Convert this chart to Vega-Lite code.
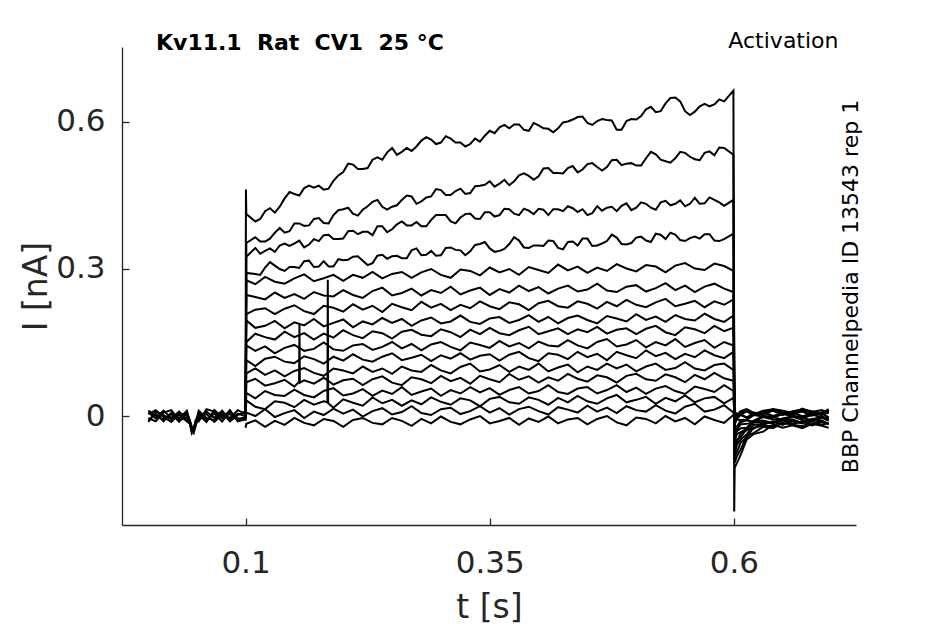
{
"$schema": "https://vega.github.io/schema/vega-lite/v6.json",
"width": 734,
"height": 478,
"autosize": {"type": "none"},
"padding": {"left": 122, "top": 47, "right": 89, "bottom": 99},
"background": "white",
"config": {"view": {"stroke": null}, "font": "DejaVu Sans"},
"title": {"text": "Kv11.1 \u00a0Rat \u00a0CV1 \u00a025 °C", "anchor": "start", "frame": "group", "dx": 34, "dy": 39, "offset": -4, "baseline": "alphabetic", "font": "DejaVu Sans", "fontSize": 22, "fontWeight": "bold", "color": "black"},
"data": {"values": [
{"s":21,"t":0.0005,"i":0.007},{"s":21,"t":0.008,"i":-0.005},{"s":21,"t":0.016,"i":0.011},{"s":21,"t":0.024,"i":-0.004},{"s":21,"t":0.032,"i":0.009},{"s":21,"t":0.04,"i":-0.007},{"s":21,"t":0.043,"i":-0.012},{"s":21,"t":0.045,"i":-0.028},{"s":21,"t":0.047,"i":-0.030},{"s":21,"t":0.049,"i":-0.015},{"s":21,"t":0.052,"i":-0.005},{"s":21,"t":0.06,"i":0.009},{"s":21,"t":0.068,"i":-0.004},{"s":21,"t":0.076,"i":0.011},{"s":21,"t":0.084,"i":-0.007},{"s":21,"t":0.092,"i":0.005},{"s":21,"t":0.0995,"i":0.000},
{"s":22,"t":0.0005,"i":-0.009},{"s":22,"t":0.008,"i":0.005},{"s":22,"t":0.016,"i":-0.011},{"s":22,"t":0.024,"i":0.007},{"s":22,"t":0.032,"i":-0.005},{"s":22,"t":0.04,"i":0.011},{"s":22,"t":0.043,"i":-0.015},{"s":22,"t":0.045,"i":-0.032},{"s":22,"t":0.047,"i":-0.027},{"s":22,"t":0.049,"i":-0.010},{"s":22,"t":0.052,"i":0.007},{"s":22,"t":0.06,"i":-0.009},{"s":22,"t":0.068,"i":0.005},{"s":22,"t":0.076,"i":-0.011},{"s":22,"t":0.084,"i":0.009},{"s":22,"t":0.092,"i":-0.005},{"s":22,"t":0.0995,"i":-0.004},
{"s":23,"t":0.0005,"i":0.004},{"s":23,"t":0.008,"i":0.012},{"s":23,"t":0.016,"i":-0.002},{"s":23,"t":0.024,"i":-0.012},{"s":23,"t":0.032,"i":0.005},{"s":23,"t":0.04,"i":0.002},{"s":23,"t":0.043,"i":-0.010},{"s":23,"t":0.045,"i":-0.025},{"s":23,"t":0.047,"i":-0.034},{"s":23,"t":0.049,"i":-0.018},{"s":23,"t":0.052,"i":-0.002},{"s":23,"t":0.06,"i":0.004},{"s":23,"t":0.068,"i":-0.012},{"s":23,"t":0.076,"i":0.002},{"s":23,"t":0.084,"i":-0.004},{"s":23,"t":0.092,"i":0.012},{"s":23,"t":0.0995,"i":0.005},
{"s":24,"t":0.0005,"i":-0.004},{"s":24,"t":0.008,"i":-0.011},{"s":24,"t":0.016,"i":0.007},{"s":24,"t":0.024,"i":0.012},{"s":24,"t":0.032,"i":-0.009},{"s":24,"t":0.04,"i":-0.002},{"s":24,"t":0.043,"i":-0.014},{"s":24,"t":0.045,"i":-0.030},{"s":24,"t":0.047,"i":-0.024},{"s":24,"t":0.049,"i":-0.008},{"s":24,"t":0.052,"i":-0.011},{"s":24,"t":0.06,"i":0.014},{"s":24,"t":0.068,"i":0.009},{"s":24,"t":0.076,"i":-0.005},{"s":24,"t":0.084,"i":0.012},{"s":24,"t":0.092,"i":-0.011},{"s":24,"t":0.0995,"i":-0.007},
{"s":25,"t":0.0005,"i":0.011},{"s":25,"t":0.008,"i":0.000},{"s":25,"t":0.016,"i":-0.007},{"s":25,"t":0.024,"i":0.004},{"s":25,"t":0.032,"i":-0.012},{"s":25,"t":0.04,"i":0.007},{"s":25,"t":0.043,"i":-0.009},{"s":25,"t":0.045,"i":-0.022},{"s":25,"t":0.047,"i":-0.031},{"s":25,"t":0.049,"i":-0.020},{"s":25,"t":0.052,"i":0.011},{"s":25,"t":0.06,"i":-0.004},{"s":25,"t":0.068,"i":-0.009},{"s":25,"t":0.076,"i":0.007},{"s":25,"t":0.084,"i":-0.011},{"s":25,"t":0.092,"i":0.002},{"s":25,"t":0.0995,"i":0.009},
{"s":26,"t":0.0005,"i":-0.012},{"s":26,"t":0.008,"i":0.009},{"s":26,"t":0.016,"i":0.002},{"s":26,"t":0.024,"i":-0.007},{"s":26,"t":0.032,"i":0.002},{"s":26,"t":0.04,"i":-0.011},{"s":26,"t":0.043,"i":-0.016},{"s":26,"t":0.045,"i":-0.035},{"s":26,"t":0.047,"i":-0.028},{"s":26,"t":0.049,"i":-0.012},{"s":26,"t":0.052,"i":0.002},{"s":26,"t":0.06,"i":-0.012},{"s":26,"t":0.068,"i":0.012},{"s":26,"t":0.076,"i":-0.002},{"s":26,"t":0.084,"i":0.004},{"s":26,"t":0.092,"i":-0.009},{"s":26,"t":0.0995,"i":-0.002},
{"s":1,"t":0.1,"i":0.003},{"s":1,"t":0.1004,"i":0.462},{"s":1,"t":0.1008,"i":0.412},{"s":1,"t":0.11,"i":0.397},{"s":1,"t":0.12,"i":0.418},{"s":1,"t":0.13,"i":0.415},{"s":1,"t":0.14,"i":0.444},{"s":1,"t":0.15,"i":0.453},{"s":1,"t":0.16,"i":0.465},{"s":1,"t":0.17,"i":0.466},{"s":1,"t":0.18,"i":0.462},{"s":1,"t":0.19,"i":0.480},{"s":1,"t":0.2,"i":0.498},{"s":1,"t":0.21,"i":0.513},{"s":1,"t":0.22,"i":0.504},{"s":1,"t":0.23,"i":0.523},{"s":1,"t":0.24,"i":0.523},{"s":1,"t":0.25,"i":0.547},{"s":1,"t":0.26,"i":0.539},{"s":1,"t":0.27,"i":0.541},{"s":1,"t":0.28,"i":0.562},{"s":1,"t":0.29,"i":0.564},{"s":1,"t":0.3,"i":0.558},{"s":1,"t":0.31,"i":0.566},{"s":1,"t":0.32,"i":0.558},{"s":1,"t":0.33,"i":0.555},{"s":1,"t":0.34,"i":0.560},{"s":1,"t":0.35,"i":0.582},{"s":1,"t":0.36,"i":0.589},{"s":1,"t":0.37,"i":0.587},{"s":1,"t":0.38,"i":0.595},{"s":1,"t":0.39,"i":0.582},{"s":1,"t":0.4,"i":0.593},{"s":1,"t":0.41,"i":0.586},{"s":1,"t":0.42,"i":0.587},{"s":1,"t":0.43,"i":0.601},{"s":1,"t":0.44,"i":0.610},{"s":1,"t":0.45,"i":0.598},{"s":1,"t":0.46,"i":0.602},{"s":1,"t":0.47,"i":0.604},{"s":1,"t":0.48,"i":0.584},{"s":1,"t":0.49,"i":0.602},{"s":1,"t":0.5,"i":0.605},{"s":1,"t":0.51,"i":0.626},{"s":1,"t":0.52,"i":0.620},{"s":1,"t":0.53,"i":0.638},{"s":1,"t":0.54,"i":0.650},{"s":1,"t":0.55,"i":0.622},{"s":1,"t":0.56,"i":0.621},{"s":1,"t":0.57,"i":0.637},{"s":1,"t":0.58,"i":0.636},{"s":1,"t":0.59,"i":0.642},{"s":1,"t":0.5995,"i":0.664},{"s":1,"t":0.6003,"i":-0.195},{"s":1,"t":0.6008,"i":-0.106},{"s":1,"t":0.603,"i":-0.096},{"s":1,"t":0.607,"i":-0.079},{"s":1,"t":0.613,"i":-0.048},{"s":1,"t":0.62,"i":-0.037},{"s":1,"t":0.63,"i":-0.032},{"s":1,"t":0.64,"i":-0.018},{"s":1,"t":0.65,"i":-0.024},{"s":1,"t":0.66,"i":-0.019},{"s":1,"t":0.67,"i":-0.025},{"s":1,"t":0.68,"i":-0.016},{"s":1,"t":0.69,"i":-0.020},{"s":1,"t":0.697,"i":-0.024},
{"s":1,"t":0.115,"i":0.402},{"s":1,"t":0.125,"i":0.424},{"s":1,"t":0.135,"i":0.427},{"s":1,"t":0.145,"i":0.457},{"s":1,"t":0.155,"i":0.450},{"s":1,"t":0.165,"i":0.470},{"s":1,"t":0.175,"i":0.470},{"s":1,"t":0.185,"i":0.464},{"s":1,"t":0.195,"i":0.491},{"s":1,"t":0.205,"i":0.515},{"s":1,"t":0.215,"i":0.504},{"s":1,"t":0.225,"i":0.506},{"s":1,"t":0.235,"i":0.528},{"s":1,"t":0.245,"i":0.538},{"s":1,"t":0.255,"i":0.533},{"s":1,"t":0.265,"i":0.547},{"s":1,"t":0.275,"i":0.550},{"s":1,"t":0.285,"i":0.569},{"s":1,"t":0.295,"i":0.555},{"s":1,"t":0.305,"i":0.571},{"s":1,"t":0.315,"i":0.558},{"s":1,"t":0.325,"i":0.550},{"s":1,"t":0.335,"i":0.566},{"s":1,"t":0.345,"i":0.572},{"s":1,"t":0.355,"i":0.577},{"s":1,"t":0.365,"i":0.594},{"s":1,"t":0.375,"i":0.595},{"s":1,"t":0.385,"i":0.584},{"s":1,"t":0.395,"i":0.598},{"s":1,"t":0.405,"i":0.587},{"s":1,"t":0.415,"i":0.579},{"s":1,"t":0.425,"i":0.599},{"s":1,"t":0.435,"i":0.605},{"s":1,"t":0.445,"i":0.611},{"s":1,"t":0.455,"i":0.594},{"s":1,"t":0.465,"i":0.606},{"s":1,"t":0.475,"i":0.603},{"s":1,"t":0.485,"i":0.584},{"s":1,"t":0.495,"i":0.606},{"s":1,"t":0.505,"i":0.612},{"s":1,"t":0.515,"i":0.631},{"s":1,"t":0.525,"i":0.622},{"s":1,"t":0.535,"i":0.649},{"s":1,"t":0.545,"i":0.642},{"s":1,"t":0.555,"i":0.614},{"s":1,"t":0.565,"i":0.632},{"s":1,"t":0.575,"i":0.632},{"s":1,"t":0.585,"i":0.646},
{"s":2,"t":0.1,"i":-0.004},{"s":2,"t":0.1008,"i":0.353},{"s":2,"t":0.11,"i":0.365},{"s":2,"t":0.12,"i":0.356},{"s":2,"t":0.13,"i":0.374},{"s":2,"t":0.14,"i":0.374},{"s":2,"t":0.15,"i":0.393},{"s":2,"t":0.16,"i":0.388},{"s":2,"t":0.17,"i":0.402},{"s":2,"t":0.18,"i":0.394},{"s":2,"t":0.19,"i":0.410},{"s":2,"t":0.2,"i":0.422},{"s":2,"t":0.21,"i":0.413},{"s":2,"t":0.22,"i":0.421},{"s":2,"t":0.23,"i":0.437},{"s":2,"t":0.24,"i":0.427},{"s":2,"t":0.25,"i":0.427},{"s":2,"t":0.26,"i":0.441},{"s":2,"t":0.27,"i":0.448},{"s":2,"t":0.28,"i":0.438},{"s":2,"t":0.29,"i":0.448},{"s":2,"t":0.3,"i":0.461},{"s":2,"t":0.31,"i":0.451},{"s":2,"t":0.32,"i":0.464},{"s":2,"t":0.33,"i":0.455},{"s":2,"t":0.34,"i":0.470},{"s":2,"t":0.35,"i":0.479},{"s":2,"t":0.36,"i":0.474},{"s":2,"t":0.37,"i":0.471},{"s":2,"t":0.38,"i":0.491},{"s":2,"t":0.39,"i":0.490},{"s":2,"t":0.4,"i":0.489},{"s":2,"t":0.41,"i":0.506},{"s":2,"t":0.42,"i":0.496},{"s":2,"t":0.43,"i":0.506},{"s":2,"t":0.44,"i":0.497},{"s":2,"t":0.45,"i":0.514},{"s":2,"t":0.46,"i":0.508},{"s":2,"t":0.47,"i":0.508},{"s":2,"t":0.48,"i":0.523},{"s":2,"t":0.49,"i":0.515},{"s":2,"t":0.5,"i":0.511},{"s":2,"t":0.51,"i":0.526},{"s":2,"t":0.52,"i":0.534},{"s":2,"t":0.53,"i":0.520},{"s":2,"t":0.54,"i":0.526},{"s":2,"t":0.55,"i":0.537},{"s":2,"t":0.56,"i":0.524},{"s":2,"t":0.57,"i":0.537},{"s":2,"t":0.58,"i":0.532},{"s":2,"t":0.59,"i":0.547},{"s":2,"t":0.5995,"i":0.533},{"s":2,"t":0.6008,"i":-0.095},{"s":2,"t":0.603,"i":-0.082},{"s":2,"t":0.607,"i":-0.068},{"s":2,"t":0.613,"i":-0.041},{"s":2,"t":0.62,"i":-0.035},{"s":2,"t":0.63,"i":-0.022},{"s":2,"t":0.64,"i":-0.025},{"s":2,"t":0.65,"i":-0.014},{"s":2,"t":0.66,"i":-0.018},{"s":2,"t":0.67,"i":-0.021},{"s":2,"t":0.68,"i":-0.011},{"s":2,"t":0.69,"i":-0.018},{"s":2,"t":0.697,"i":-0.014},
{"s":2,"t":0.115,"i":0.356},{"s":2,"t":0.125,"i":0.362},{"s":2,"t":0.135,"i":0.384},{"s":2,"t":0.145,"i":0.377},{"s":2,"t":0.155,"i":0.393},{"s":2,"t":0.165,"i":0.389},{"s":2,"t":0.175,"i":0.404},{"s":2,"t":0.185,"i":0.393},{"s":2,"t":0.195,"i":0.420},{"s":2,"t":0.205,"i":0.425},{"s":2,"t":0.215,"i":0.409},{"s":2,"t":0.225,"i":0.428},{"s":2,"t":0.235,"i":0.441},{"s":2,"t":0.245,"i":0.421},{"s":2,"t":0.255,"i":0.430},{"s":2,"t":0.265,"i":0.450},{"s":2,"t":0.275,"i":0.433},{"s":2,"t":0.285,"i":0.446},{"s":2,"t":0.295,"i":0.463},{"s":2,"t":0.305,"i":0.451},{"s":2,"t":0.315,"i":0.459},{"s":2,"t":0.325,"i":0.453},{"s":2,"t":0.335,"i":0.469},{"s":2,"t":0.345,"i":0.472},{"s":2,"t":0.355,"i":0.468},{"s":2,"t":0.365,"i":0.482},{"s":2,"t":0.375,"i":0.479},{"s":2,"t":0.385,"i":0.495},{"s":2,"t":0.395,"i":0.482},{"s":2,"t":0.405,"i":0.505},{"s":2,"t":0.415,"i":0.496},{"s":2,"t":0.425,"i":0.495},{"s":2,"t":0.435,"i":0.510},{"s":2,"t":0.445,"i":0.503},{"s":2,"t":0.455,"i":0.516},{"s":2,"t":0.465,"i":0.501},{"s":2,"t":0.475,"i":0.522},{"s":2,"t":0.485,"i":0.512},{"s":2,"t":0.495,"i":0.516},{"s":2,"t":0.505,"i":0.511},{"s":2,"t":0.515,"i":0.539},{"s":2,"t":0.525,"i":0.523},{"s":2,"t":0.535,"i":0.517},{"s":2,"t":0.545,"i":0.539},{"s":2,"t":0.555,"i":0.529},{"s":2,"t":0.565,"i":0.522},{"s":2,"t":0.575,"i":0.540},{"s":2,"t":0.585,"i":0.548},
{"s":3,"t":0.1,"i":0.002},{"s":3,"t":0.1008,"i":0.325},{"s":3,"t":0.11,"i":0.343},{"s":3,"t":0.12,"i":0.337},{"s":3,"t":0.13,"i":0.335},{"s":3,"t":0.14,"i":0.352},{"s":3,"t":0.15,"i":0.352},{"s":3,"t":0.16,"i":0.344},{"s":3,"t":0.17,"i":0.361},{"s":3,"t":0.18,"i":0.369},{"s":3,"t":0.19,"i":0.361},{"s":3,"t":0.2,"i":0.362},{"s":3,"t":0.21,"i":0.378},{"s":3,"t":0.22,"i":0.376},{"s":3,"t":0.23,"i":0.369},{"s":3,"t":0.24,"i":0.387},{"s":3,"t":0.25,"i":0.381},{"s":3,"t":0.26,"i":0.397},{"s":3,"t":0.27,"i":0.389},{"s":3,"t":0.28,"i":0.387},{"s":3,"t":0.29,"i":0.400},{"s":3,"t":0.3,"i":0.410},{"s":3,"t":0.31,"i":0.397},{"s":3,"t":0.32,"i":0.405},{"s":3,"t":0.33,"i":0.413},{"s":3,"t":0.34,"i":0.402},{"s":3,"t":0.35,"i":0.416},{"s":3,"t":0.36,"i":0.410},{"s":3,"t":0.37,"i":0.422},{"s":3,"t":0.38,"i":0.410},{"s":3,"t":0.39,"i":0.419},{"s":3,"t":0.4,"i":0.423},{"s":3,"t":0.41,"i":0.410},{"s":3,"t":0.42,"i":0.422},{"s":3,"t":0.43,"i":0.428},{"s":3,"t":0.44,"i":0.416},{"s":3,"t":0.45,"i":0.410},{"s":3,"t":0.46,"i":0.428},{"s":3,"t":0.47,"i":0.425},{"s":3,"t":0.48,"i":0.418},{"s":3,"t":0.49,"i":0.434},{"s":3,"t":0.5,"i":0.425},{"s":3,"t":0.51,"i":0.433},{"s":3,"t":0.52,"i":0.421},{"s":3,"t":0.53,"i":0.439},{"s":3,"t":0.54,"i":0.433},{"s":3,"t":0.55,"i":0.428},{"s":3,"t":0.56,"i":0.445},{"s":3,"t":0.57,"i":0.434},{"s":3,"t":0.58,"i":0.441},{"s":3,"t":0.59,"i":0.429},{"s":3,"t":0.5995,"i":0.441},{"s":3,"t":0.6008,"i":-0.081},{"s":3,"t":0.603,"i":-0.074},{"s":3,"t":0.607,"i":-0.054},{"s":3,"t":0.613,"i":-0.044},{"s":3,"t":0.62,"i":-0.024},{"s":3,"t":0.63,"i":-0.020},{"s":3,"t":0.64,"i":-0.021},{"s":3,"t":0.65,"i":-0.009},{"s":3,"t":0.66,"i":-0.016},{"s":3,"t":0.67,"i":-0.011},{"s":3,"t":0.68,"i":-0.019},{"s":3,"t":0.69,"i":-0.012},{"s":3,"t":0.697,"i":-0.017},
{"s":3,"t":0.115,"i":0.331},{"s":3,"t":0.125,"i":0.342},{"s":3,"t":0.135,"i":0.348},{"s":3,"t":0.145,"i":0.347},{"s":3,"t":0.155,"i":0.358},{"s":3,"t":0.165,"i":0.350},{"s":3,"t":0.175,"i":0.357},{"s":3,"t":0.185,"i":0.370},{"s":3,"t":0.195,"i":0.361},{"s":3,"t":0.205,"i":0.377},{"s":3,"t":0.215,"i":0.371},{"s":3,"t":0.225,"i":0.376},{"s":3,"t":0.235,"i":0.387},{"s":3,"t":0.245,"i":0.375},{"s":3,"t":0.255,"i":0.391},{"s":3,"t":0.265,"i":0.389},{"s":3,"t":0.275,"i":0.396},{"s":3,"t":0.285,"i":0.387},{"s":3,"t":0.295,"i":0.410},{"s":3,"t":0.305,"i":0.410},{"s":3,"t":0.315,"i":0.393},{"s":3,"t":0.325,"i":0.412},{"s":3,"t":0.335,"i":0.403},{"s":3,"t":0.345,"i":0.416},{"s":3,"t":0.355,"i":0.407},{"s":3,"t":0.365,"i":0.423},{"s":3,"t":0.375,"i":0.413},{"s":3,"t":0.385,"i":0.423},{"s":3,"t":0.395,"i":0.412},{"s":3,"t":0.405,"i":0.421},{"s":3,"t":0.415,"i":0.422},{"s":3,"t":0.425,"i":0.418},{"s":3,"t":0.435,"i":0.424},{"s":3,"t":0.445,"i":0.422},{"s":3,"t":0.455,"i":0.414},{"s":3,"t":0.465,"i":0.419},{"s":3,"t":0.475,"i":0.427},{"s":3,"t":0.485,"i":0.429},{"s":3,"t":0.495,"i":0.420},{"s":3,"t":0.505,"i":0.436},{"s":3,"t":0.515,"i":0.425},{"s":3,"t":0.525,"i":0.436},{"s":3,"t":0.535,"i":0.430},{"s":3,"t":0.545,"i":0.440},{"s":3,"t":0.555,"i":0.433},{"s":3,"t":0.565,"i":0.433},{"s":3,"t":0.575,"i":0.446},{"s":3,"t":0.585,"i":0.436},
{"s":4,"t":0.1,"i":-0.003},{"s":4,"t":0.1008,"i":0.292},{"s":4,"t":0.11,"i":0.290},{"s":4,"t":0.12,"i":0.303},{"s":4,"t":0.13,"i":0.307},{"s":4,"t":0.14,"i":0.296},{"s":4,"t":0.15,"i":0.304},{"s":4,"t":0.16,"i":0.316},{"s":4,"t":0.17,"i":0.304},{"s":4,"t":0.18,"i":0.316},{"s":4,"t":0.19,"i":0.305},{"s":4,"t":0.2,"i":0.318},{"s":4,"t":0.21,"i":0.325},{"s":4,"t":0.22,"i":0.317},{"s":4,"t":0.23,"i":0.312},{"s":4,"t":0.24,"i":0.329},{"s":4,"t":0.25,"i":0.326},{"s":4,"t":0.26,"i":0.322},{"s":4,"t":0.27,"i":0.338},{"s":4,"t":0.28,"i":0.328},{"s":4,"t":0.29,"i":0.337},{"s":4,"t":0.3,"i":0.328},{"s":4,"t":0.31,"i":0.344},{"s":4,"t":0.32,"i":0.338},{"s":4,"t":0.33,"i":0.336},{"s":4,"t":0.34,"i":0.351},{"s":4,"t":0.35,"i":0.342},{"s":4,"t":0.36,"i":0.337},{"s":4,"t":0.37,"i":0.351},{"s":4,"t":0.38,"i":0.358},{"s":4,"t":0.39,"i":0.343},{"s":4,"t":0.4,"i":0.348},{"s":4,"t":0.41,"i":0.358},{"s":4,"t":0.42,"i":0.343},{"s":4,"t":0.43,"i":0.355},{"s":4,"t":0.44,"i":0.348},{"s":4,"t":0.45,"i":0.362},{"s":4,"t":0.46,"i":0.348},{"s":4,"t":0.47,"i":0.357},{"s":4,"t":0.48,"i":0.364},{"s":4,"t":0.49,"i":0.350},{"s":4,"t":0.5,"i":0.364},{"s":4,"t":0.51,"i":0.358},{"s":4,"t":0.52,"i":0.372},{"s":4,"t":0.53,"i":0.361},{"s":4,"t":0.54,"i":0.370},{"s":4,"t":0.55,"i":0.357},{"s":4,"t":0.56,"i":0.366},{"s":4,"t":0.57,"i":0.371},{"s":4,"t":0.58,"i":0.358},{"s":4,"t":0.59,"i":0.361},{"s":4,"t":0.5995,"i":0.372},{"s":4,"t":0.6008,"i":-0.079},{"s":4,"t":0.603,"i":-0.059},{"s":4,"t":0.607,"i":-0.048},{"s":4,"t":0.613,"i":-0.038},{"s":4,"t":0.62,"i":-0.018},{"s":4,"t":0.63,"i":-0.018},{"s":4,"t":0.64,"i":-0.011},{"s":4,"t":0.65,"i":-0.018},{"s":4,"t":0.66,"i":-0.010},{"s":4,"t":0.67,"i":-0.015},{"s":4,"t":0.68,"i":-0.007},{"s":4,"t":0.69,"i":-0.013},{"s":4,"t":0.697,"i":-0.016},
{"s":4,"t":0.115,"i":0.288},{"s":4,"t":0.125,"i":0.314},{"s":4,"t":0.135,"i":0.300},{"s":4,"t":0.145,"i":0.304},{"s":4,"t":0.155,"i":0.302},{"s":4,"t":0.165,"i":0.317},{"s":4,"t":0.175,"i":0.305},{"s":4,"t":0.185,"i":0.305},{"s":4,"t":0.195,"i":0.320},{"s":4,"t":0.205,"i":0.319},{"s":4,"t":0.215,"i":0.326},{"s":4,"t":0.225,"i":0.308},{"s":4,"t":0.235,"i":0.327},{"s":4,"t":0.245,"i":0.321},{"s":4,"t":0.255,"i":0.327},{"s":4,"t":0.265,"i":0.322},{"s":4,"t":0.275,"i":0.342},{"s":4,"t":0.285,"i":0.329},{"s":4,"t":0.295,"i":0.327},{"s":4,"t":0.305,"i":0.343},{"s":4,"t":0.315,"i":0.339},{"s":4,"t":0.325,"i":0.328},{"s":4,"t":0.335,"i":0.349},{"s":4,"t":0.345,"i":0.355},{"s":4,"t":0.355,"i":0.335},{"s":4,"t":0.365,"i":0.341},{"s":4,"t":0.375,"i":0.365},{"s":4,"t":0.385,"i":0.344},{"s":4,"t":0.395,"i":0.348},{"s":4,"t":0.405,"i":0.347},{"s":4,"t":0.415,"i":0.357},{"s":4,"t":0.425,"i":0.340},{"s":4,"t":0.435,"i":0.356},{"s":4,"t":0.445,"i":0.362},{"s":4,"t":0.455,"i":0.347},{"s":4,"t":0.465,"i":0.352},{"s":4,"t":0.475,"i":0.370},{"s":4,"t":0.485,"i":0.351},{"s":4,"t":0.495,"i":0.353},{"s":4,"t":0.505,"i":0.366},{"s":4,"t":0.515,"i":0.355},{"s":4,"t":0.525,"i":0.370},{"s":4,"t":0.535,"i":0.374},{"s":4,"t":0.545,"i":0.359},{"s":4,"t":0.555,"i":0.363},{"s":4,"t":0.565,"i":0.362},{"s":4,"t":0.575,"i":0.371},{"s":4,"t":0.585,"i":0.357},
{"s":5,"t":0.1,"i":0.004},{"s":5,"t":0.1008,"i":0.277},{"s":5,"t":0.11,"i":0.269},{"s":5,"t":0.12,"i":0.284},{"s":5,"t":0.13,"i":0.274},{"s":5,"t":0.14,"i":0.270},{"s":5,"t":0.15,"i":0.281},{"s":5,"t":0.16,"i":0.289},{"s":5,"t":0.17,"i":0.275},{"s":5,"t":0.18,"i":0.281},{"s":5,"t":0.19,"i":0.288},{"s":5,"t":0.2,"i":0.276},{"s":5,"t":0.21,"i":0.288},{"s":5,"t":0.22,"i":0.282},{"s":5,"t":0.23,"i":0.294},{"s":5,"t":0.24,"i":0.281},{"s":5,"t":0.25,"i":0.290},{"s":5,"t":0.26,"i":0.294},{"s":5,"t":0.27,"i":0.282},{"s":5,"t":0.28,"i":0.293},{"s":5,"t":0.29,"i":0.300},{"s":5,"t":0.3,"i":0.288},{"s":5,"t":0.31,"i":0.282},{"s":5,"t":0.32,"i":0.299},{"s":5,"t":0.33,"i":0.296},{"s":5,"t":0.34,"i":0.287},{"s":5,"t":0.35,"i":0.303},{"s":5,"t":0.36,"i":0.293},{"s":5,"t":0.37,"i":0.300},{"s":5,"t":0.38,"i":0.288},{"s":5,"t":0.39,"i":0.304},{"s":5,"t":0.4,"i":0.298},{"s":5,"t":0.41,"i":0.292},{"s":5,"t":0.42,"i":0.309},{"s":5,"t":0.43,"i":0.297},{"s":5,"t":0.44,"i":0.305},{"s":5,"t":0.45,"i":0.292},{"s":5,"t":0.46,"i":0.303},{"s":5,"t":0.47,"i":0.296},{"s":5,"t":0.48,"i":0.310},{"s":5,"t":0.49,"i":0.301},{"s":5,"t":0.5,"i":0.295},{"s":5,"t":0.51,"i":0.308},{"s":5,"t":0.52,"i":0.305},{"s":5,"t":0.53,"i":0.293},{"s":5,"t":0.54,"i":0.307},{"s":5,"t":0.55,"i":0.312},{"s":5,"t":0.56,"i":0.301},{"s":5,"t":0.57,"i":0.298},{"s":5,"t":0.58,"i":0.311},{"s":5,"t":0.59,"i":0.306},{"s":5,"t":0.5995,"i":0.296},{"s":5,"t":0.6008,"i":-0.070},{"s":5,"t":0.603,"i":-0.049},{"s":5,"t":0.607,"i":-0.043},{"s":5,"t":0.613,"i":-0.027},{"s":5,"t":0.62,"i":-0.026},{"s":5,"t":0.63,"i":-0.013},{"s":5,"t":0.64,"i":-0.015},{"s":5,"t":0.65,"i":-0.006},{"s":5,"t":0.66,"i":-0.011},{"s":5,"t":0.67,"i":-0.014},{"s":5,"t":0.68,"i":-0.006},{"s":5,"t":0.69,"i":-0.009},{"s":5,"t":0.697,"i":-0.016},
{"s":6,"t":0.1,"i":-0.002},{"s":6,"t":0.1008,"i":0.247},{"s":6,"t":0.11,"i":0.243},{"s":6,"t":0.12,"i":0.238},{"s":6,"t":0.13,"i":0.252},{"s":6,"t":0.14,"i":0.241},{"s":6,"t":0.15,"i":0.249},{"s":6,"t":0.16,"i":0.239},{"s":6,"t":0.17,"i":0.253},{"s":6,"t":0.18,"i":0.246},{"s":6,"t":0.19,"i":0.244},{"s":6,"t":0.2,"i":0.257},{"s":6,"t":0.21,"i":0.247},{"s":6,"t":0.22,"i":0.241},{"s":6,"t":0.23,"i":0.255},{"s":6,"t":0.24,"i":0.262},{"s":6,"t":0.25,"i":0.246},{"s":6,"t":0.26,"i":0.251},{"s":6,"t":0.27,"i":0.260},{"s":6,"t":0.28,"i":0.246},{"s":6,"t":0.29,"i":0.257},{"s":6,"t":0.3,"i":0.251},{"s":6,"t":0.31,"i":0.264},{"s":6,"t":0.32,"i":0.248},{"s":6,"t":0.33,"i":0.256},{"s":6,"t":0.34,"i":0.262},{"s":6,"t":0.35,"i":0.247},{"s":6,"t":0.36,"i":0.259},{"s":6,"t":0.37,"i":0.252},{"s":6,"t":0.38,"i":0.266},{"s":6,"t":0.39,"i":0.255},{"s":6,"t":0.4,"i":0.263},{"s":6,"t":0.41,"i":0.250},{"s":6,"t":0.42,"i":0.260},{"s":6,"t":0.43,"i":0.266},{"s":6,"t":0.44,"i":0.254},{"s":6,"t":0.45,"i":0.258},{"s":6,"t":0.46,"i":0.270},{"s":6,"t":0.47,"i":0.256},{"s":6,"t":0.48,"i":0.253},{"s":6,"t":0.49,"i":0.264},{"s":6,"t":0.5,"i":0.267},{"s":6,"t":0.51,"i":0.254},{"s":6,"t":0.52,"i":0.261},{"s":6,"t":0.53,"i":0.271},{"s":6,"t":0.54,"i":0.257},{"s":6,"t":0.55,"i":0.266},{"s":6,"t":0.56,"i":0.253},{"s":6,"t":0.57,"i":0.264},{"s":6,"t":0.58,"i":0.270},{"s":6,"t":0.59,"i":0.260},{"s":6,"t":0.5995,"i":0.253},{"s":6,"t":0.6008,"i":-0.055},{"s":6,"t":0.603,"i":-0.054},{"s":6,"t":0.607,"i":-0.035},{"s":6,"t":0.613,"i":-0.029},{"s":6,"t":0.62,"i":-0.013},{"s":6,"t":0.63,"i":-0.013},{"s":6,"t":0.64,"i":-0.014},{"s":6,"t":0.65,"i":-0.005},{"s":6,"t":0.66,"i":-0.007},{"s":6,"t":0.67,"i":-0.014},{"s":6,"t":0.68,"i":-0.006},{"s":6,"t":0.69,"i":-0.003},{"s":6,"t":0.697,"i":-0.010},
{"s":7,"t":0.1,"i":0.001},{"s":7,"t":0.1008,"i":0.208},{"s":7,"t":0.11,"i":0.217},{"s":7,"t":0.12,"i":0.220},{"s":7,"t":0.13,"i":0.208},{"s":7,"t":0.14,"i":0.219},{"s":7,"t":0.15,"i":0.226},{"s":7,"t":0.16,"i":0.214},{"s":7,"t":0.17,"i":0.208},{"s":7,"t":0.18,"i":0.225},{"s":7,"t":0.19,"i":0.221},{"s":7,"t":0.2,"i":0.213},{"s":7,"t":0.21,"i":0.228},{"s":7,"t":0.22,"i":0.217},{"s":7,"t":0.23,"i":0.225},{"s":7,"t":0.24,"i":0.212},{"s":7,"t":0.25,"i":0.229},{"s":7,"t":0.26,"i":0.222},{"s":7,"t":0.27,"i":0.216},{"s":7,"t":0.28,"i":0.233},{"s":7,"t":0.29,"i":0.221},{"s":7,"t":0.3,"i":0.229},{"s":7,"t":0.31,"i":0.216},{"s":7,"t":0.32,"i":0.227},{"s":7,"t":0.33,"i":0.220},{"s":7,"t":0.34,"i":0.234},{"s":7,"t":0.35,"i":0.224},{"s":7,"t":0.36,"i":0.218},{"s":7,"t":0.37,"i":0.232},{"s":7,"t":0.38,"i":0.228},{"s":7,"t":0.39,"i":0.216},{"s":7,"t":0.4,"i":0.230},{"s":7,"t":0.41,"i":0.235},{"s":7,"t":0.42,"i":0.224},{"s":7,"t":0.43,"i":0.221},{"s":7,"t":0.44,"i":0.234},{"s":7,"t":0.45,"i":0.229},{"s":7,"t":0.46,"i":0.219},{"s":7,"t":0.47,"i":0.233},{"s":7,"t":0.48,"i":0.224},{"s":7,"t":0.49,"i":0.237},{"s":7,"t":0.5,"i":0.227},{"s":7,"t":0.51,"i":0.222},{"s":7,"t":0.52,"i":0.232},{"s":7,"t":0.53,"i":0.239},{"s":7,"t":0.54,"i":0.224},{"s":7,"t":0.55,"i":0.229},{"s":7,"t":0.56,"i":0.235},{"s":7,"t":0.57,"i":0.222},{"s":7,"t":0.58,"i":0.234},{"s":7,"t":0.59,"i":0.227},{"s":7,"t":0.5995,"i":0.238},{"s":7,"t":0.6008,"i":-0.053},{"s":7,"t":0.603,"i":-0.037},{"s":7,"t":0.607,"i":-0.033},{"s":7,"t":0.613,"i":-0.026},{"s":7,"t":0.62,"i":-0.011},{"s":7,"t":0.63,"i":-0.009},{"s":7,"t":0.64,"i":-0.014},{"s":7,"t":0.65,"i":-0.005},{"s":7,"t":0.66,"i":-0.001},{"s":7,"t":0.67,"i":-0.008},{"s":7,"t":0.68,"i":-0.010},{"s":7,"t":0.69,"i":-0.002},{"s":7,"t":0.697,"i":-0.005},
{"s":8,"t":0.1,"i":-0.005},{"s":8,"t":0.1008,"i":0.195},{"s":8,"t":0.11,"i":0.180},{"s":8,"t":0.12,"i":0.184},{"s":8,"t":0.13,"i":0.194},{"s":8,"t":0.14,"i":0.179},{"s":8,"t":0.15,"i":0.191},{"s":8,"t":0.16,"i":0.185},{"s":8,"t":0.17,"i":0.198},{"s":8,"t":0.18,"i":0.183},{"s":8,"t":0.19,"i":0.190},{"s":8,"t":0.2,"i":0.197},{"s":8,"t":0.21,"i":0.181},{"s":8,"t":0.22,"i":0.193},{"s":8,"t":0.23,"i":0.187},{"s":8,"t":0.24,"i":0.200},{"s":8,"t":0.25,"i":0.190},{"s":8,"t":0.26,"i":0.198},{"s":8,"t":0.27,"i":0.184},{"s":8,"t":0.28,"i":0.195},{"s":8,"t":0.29,"i":0.201},{"s":8,"t":0.3,"i":0.189},{"s":8,"t":0.31,"i":0.193},{"s":8,"t":0.32,"i":0.205},{"s":8,"t":0.33,"i":0.192},{"s":8,"t":0.34,"i":0.188},{"s":8,"t":0.35,"i":0.199},{"s":8,"t":0.36,"i":0.202},{"s":8,"t":0.37,"i":0.190},{"s":8,"t":0.38,"i":0.196},{"s":8,"t":0.39,"i":0.206},{"s":8,"t":0.4,"i":0.192},{"s":8,"t":0.41,"i":0.202},{"s":8,"t":0.42,"i":0.189},{"s":8,"t":0.43,"i":0.200},{"s":8,"t":0.44,"i":0.205},{"s":8,"t":0.45,"i":0.196},{"s":8,"t":0.46,"i":0.189},{"s":8,"t":0.47,"i":0.204},{"s":8,"t":0.48,"i":0.199},{"s":8,"t":0.49,"i":0.193},{"s":8,"t":0.5,"i":0.208},{"s":8,"t":0.51,"i":0.196},{"s":8,"t":0.52,"i":0.203},{"s":8,"t":0.53,"i":0.192},{"s":8,"t":0.54,"i":0.206},{"s":8,"t":0.55,"i":0.198},{"s":8,"t":0.56,"i":0.195},{"s":8,"t":0.57,"i":0.209},{"s":8,"t":0.58,"i":0.198},{"s":8,"t":0.59,"i":0.192},{"s":8,"t":0.5995,"i":0.205},{"s":8,"t":0.6008,"i":-0.046},{"s":8,"t":0.603,"i":-0.031},{"s":8,"t":0.607,"i":-0.025},{"s":8,"t":0.613,"i":-0.024},{"s":8,"t":0.62,"i":-0.010},{"s":8,"t":0.63,"i":-0.002},{"s":8,"t":0.64,"i":-0.007},{"s":8,"t":0.65,"i":-0.009},{"s":8,"t":0.66,"i":0.000},{"s":8,"t":0.67,"i":-0.003},{"s":8,"t":0.68,"i":-0.009},{"s":8,"t":0.69,"i":-0.001},{"s":8,"t":0.697,"i":-0.006},
{"s":9,"t":0.1,"i":0.003},{"s":9,"t":0.1008,"i":0.151},{"s":9,"t":0.11,"i":0.168},{"s":9,"t":0.12,"i":0.161},{"s":9,"t":0.13,"i":0.156},{"s":9,"t":0.14,"i":0.172},{"s":9,"t":0.15,"i":0.161},{"s":9,"t":0.16,"i":0.169},{"s":9,"t":0.17,"i":0.156},{"s":9,"t":0.18,"i":0.168},{"s":9,"t":0.19,"i":0.160},{"s":9,"t":0.2,"i":0.175},{"s":9,"t":0.21,"i":0.165},{"s":9,"t":0.22,"i":0.159},{"s":9,"t":0.23,"i":0.173},{"s":9,"t":0.24,"i":0.169},{"s":9,"t":0.25,"i":0.158},{"s":9,"t":0.26,"i":0.172},{"s":9,"t":0.27,"i":0.176},{"s":9,"t":0.28,"i":0.166},{"s":9,"t":0.29,"i":0.163},{"s":9,"t":0.3,"i":0.177},{"s":9,"t":0.31,"i":0.171},{"s":9,"t":0.32,"i":0.161},{"s":9,"t":0.33,"i":0.176},{"s":9,"t":0.34,"i":0.167},{"s":9,"t":0.35,"i":0.180},{"s":9,"t":0.36,"i":0.169},{"s":9,"t":0.37,"i":0.165},{"s":9,"t":0.38,"i":0.175},{"s":9,"t":0.39,"i":0.182},{"s":9,"t":0.4,"i":0.167},{"s":9,"t":0.41,"i":0.173},{"s":9,"t":0.42,"i":0.179},{"s":9,"t":0.43,"i":0.167},{"s":9,"t":0.44,"i":0.177},{"s":9,"t":0.45,"i":0.171},{"s":9,"t":0.46,"i":0.182},{"s":9,"t":0.47,"i":0.168},{"s":9,"t":0.48,"i":0.176},{"s":9,"t":0.49,"i":0.179},{"s":9,"t":0.5,"i":0.167},{"s":9,"t":0.51,"i":0.178},{"s":9,"t":0.52,"i":0.184},{"s":9,"t":0.53,"i":0.171},{"s":9,"t":0.54,"i":0.165},{"s":9,"t":0.55,"i":0.181},{"s":9,"t":0.56,"i":0.177},{"s":9,"t":0.57,"i":0.169},{"s":9,"t":0.58,"i":0.184},{"s":9,"t":0.59,"i":0.173},{"s":9,"t":0.5995,"i":0.180},{"s":9,"t":0.6008,"i":-0.042},{"s":9,"t":0.603,"i":-0.027},{"s":9,"t":0.607,"i":-0.017},{"s":9,"t":0.613,"i":-0.016},{"s":9,"t":0.62,"i":-0.013},{"s":9,"t":0.63,"i":-0.001},{"s":9,"t":0.64,"i":-0.002},{"s":9,"t":0.65,"i":-0.008},{"s":9,"t":0.66,"i":0.001},{"s":9,"t":0.67,"i":-0.004},{"s":9,"t":0.68,"i":0.003},{"s":9,"t":0.69,"i":-0.003},{"s":9,"t":0.697,"i":-0.006},
{"s":10,"t":0.1,"i":-0.001},{"s":10,"t":0.1008,"i":0.144},{"s":10,"t":0.11,"i":0.133},{"s":10,"t":0.12,"i":0.142},{"s":10,"t":0.13,"i":0.128},{"s":10,"t":0.14,"i":0.139},{"s":10,"t":0.15,"i":0.145},{"s":10,"t":0.16,"i":0.133},{"s":10,"t":0.17,"i":0.137},{"s":10,"t":0.18,"i":0.150},{"s":10,"t":0.19,"i":0.136},{"s":10,"t":0.2,"i":0.133},{"s":10,"t":0.21,"i":0.144},{"s":10,"t":0.22,"i":0.147},{"s":10,"t":0.23,"i":0.135},{"s":10,"t":0.24,"i":0.141},{"s":10,"t":0.25,"i":0.151},{"s":10,"t":0.26,"i":0.138},{"s":10,"t":0.27,"i":0.147},{"s":10,"t":0.28,"i":0.134},{"s":10,"t":0.29,"i":0.146},{"s":10,"t":0.3,"i":0.151},{"s":10,"t":0.31,"i":0.141},{"s":10,"t":0.32,"i":0.134},{"s":10,"t":0.33,"i":0.150},{"s":10,"t":0.34,"i":0.145},{"s":10,"t":0.35,"i":0.139},{"s":10,"t":0.36,"i":0.153},{"s":10,"t":0.37,"i":0.142},{"s":10,"t":0.38,"i":0.149},{"s":10,"t":0.39,"i":0.138},{"s":10,"t":0.4,"i":0.152},{"s":10,"t":0.41,"i":0.144},{"s":10,"t":0.42,"i":0.142},{"s":10,"t":0.43,"i":0.155},{"s":10,"t":0.44,"i":0.144},{"s":10,"t":0.45,"i":0.138},{"s":10,"t":0.46,"i":0.151},{"s":10,"t":0.47,"i":0.157},{"s":10,"t":0.48,"i":0.142},{"s":10,"t":0.49,"i":0.146},{"s":10,"t":0.5,"i":0.155},{"s":10,"t":0.51,"i":0.140},{"s":10,"t":0.52,"i":0.151},{"s":10,"t":0.53,"i":0.144},{"s":10,"t":0.54,"i":0.157},{"s":10,"t":0.55,"i":0.141},{"s":10,"t":0.56,"i":0.149},{"s":10,"t":0.57,"i":0.155},{"s":10,"t":0.58,"i":0.139},{"s":10,"t":0.59,"i":0.151},{"s":10,"t":0.5995,"i":0.144},{"s":10,"t":0.6008,"i":-0.031},{"s":10,"t":0.603,"i":-0.027},{"s":10,"t":0.607,"i":-0.013},{"s":10,"t":0.613,"i":-0.009},{"s":10,"t":0.62,"i":-0.011},{"s":10,"t":0.63,"i":0.001},{"s":10,"t":0.64,"i":-0.003},{"s":10,"t":0.65,"i":0.005},{"s":10,"t":0.66,"i":-0.001},{"s":10,"t":0.67,"i":-0.004},{"s":10,"t":0.68,"i":0.002},{"s":10,"t":0.69,"i":0.006},{"s":10,"t":0.697,"i":-0.003},
{"s":11,"t":0.1,"i":0.005},{"s":11,"t":0.1008,"i":0.114},{"s":11,"t":0.11,"i":0.102},{"s":11,"t":0.12,"i":0.117},{"s":11,"t":0.13,"i":0.121},{"s":11,"t":0.14,"i":0.111},{"s":11,"t":0.15,"i":0.108},{"s":11,"t":0.16,"i":0.122},{"s":11,"t":0.17,"i":0.116},{"s":11,"t":0.18,"i":0.107},{"s":11,"t":0.19,"i":0.121},{"s":11,"t":0.2,"i":0.113},{"s":11,"t":0.21,"i":0.126},{"s":11,"t":0.22,"i":0.115},{"s":11,"t":0.23,"i":0.111},{"s":11,"t":0.24,"i":0.121},{"s":11,"t":0.25,"i":0.128},{"s":11,"t":0.26,"i":0.114},{"s":11,"t":0.27,"i":0.119},{"s":11,"t":0.28,"i":0.125},{"s":11,"t":0.29,"i":0.112},{"s":11,"t":0.3,"i":0.124},{"s":11,"t":0.31,"i":0.117},{"s":11,"t":0.32,"i":0.128},{"s":11,"t":0.33,"i":0.115},{"s":11,"t":0.34,"i":0.123},{"s":11,"t":0.35,"i":0.126},{"s":11,"t":0.36,"i":0.113},{"s":11,"t":0.37,"i":0.125},{"s":11,"t":0.38,"i":0.131},{"s":11,"t":0.39,"i":0.118},{"s":11,"t":0.4,"i":0.112},{"s":11,"t":0.41,"i":0.128},{"s":11,"t":0.42,"i":0.125},{"s":11,"t":0.43,"i":0.116},{"s":11,"t":0.44,"i":0.131},{"s":11,"t":0.45,"i":0.120},{"s":11,"t":0.46,"i":0.127},{"s":11,"t":0.47,"i":0.114},{"s":11,"t":0.48,"i":0.131},{"s":11,"t":0.49,"i":0.124},{"s":11,"t":0.5,"i":0.118},{"s":11,"t":0.51,"i":0.134},{"s":11,"t":0.52,"i":0.122},{"s":11,"t":0.53,"i":0.129},{"s":11,"t":0.54,"i":0.116},{"s":11,"t":0.55,"i":0.127},{"s":11,"t":0.56,"i":0.120},{"s":11,"t":0.57,"i":0.134},{"s":11,"t":0.58,"i":0.124},{"s":11,"t":0.59,"i":0.118},{"s":11,"t":0.5995,"i":0.131},{"s":11,"t":0.6008,"i":-0.021},{"s":11,"t":0.603,"i":-0.022},{"s":11,"t":0.607,"i":-0.009},{"s":11,"t":0.613,"i":-0.008},{"s":11,"t":0.62,"i":0.002},{"s":11,"t":0.63,"i":-0.001},{"s":11,"t":0.64,"i":-0.003},{"s":11,"t":0.65,"i":0.004},{"s":11,"t":0.66,"i":0.008},{"s":11,"t":0.67,"i":-0.001},{"s":11,"t":0.68,"i":0.002},{"s":11,"t":0.69,"i":0.006},{"s":11,"t":0.697,"i":-0.003},
{"s":12,"t":0.1,"i":-0.004},{"s":12,"t":0.1008,"i":0.087},{"s":12,"t":0.11,"i":0.097},{"s":12,"t":0.12,"i":0.084},{"s":12,"t":0.13,"i":0.093},{"s":12,"t":0.14,"i":0.081},{"s":12,"t":0.15,"i":0.092},{"s":12,"t":0.16,"i":0.098},{"s":12,"t":0.17,"i":0.088},{"s":12,"t":0.18,"i":0.082},{"s":12,"t":0.19,"i":0.097},{"s":12,"t":0.2,"i":0.093},{"s":12,"t":0.21,"i":0.087},{"s":12,"t":0.22,"i":0.101},{"s":12,"t":0.23,"i":0.090},{"s":12,"t":0.24,"i":0.097},{"s":12,"t":0.25,"i":0.086},{"s":12,"t":0.26,"i":0.101},{"s":12,"t":0.27,"i":0.093},{"s":12,"t":0.28,"i":0.090},{"s":12,"t":0.29,"i":0.104},{"s":12,"t":0.3,"i":0.093},{"s":12,"t":0.31,"i":0.087},{"s":12,"t":0.32,"i":0.100},{"s":12,"t":0.33,"i":0.107},{"s":12,"t":0.34,"i":0.091},{"s":12,"t":0.35,"i":0.095},{"s":12,"t":0.36,"i":0.104},{"s":12,"t":0.37,"i":0.090},{"s":12,"t":0.38,"i":0.101},{"s":12,"t":0.39,"i":0.094},{"s":12,"t":0.4,"i":0.107},{"s":12,"t":0.41,"i":0.091},{"s":12,"t":0.42,"i":0.099},{"s":12,"t":0.43,"i":0.105},{"s":12,"t":0.44,"i":0.089},{"s":12,"t":0.45,"i":0.101},{"s":12,"t":0.46,"i":0.094},{"s":12,"t":0.47,"i":0.107},{"s":12,"t":0.48,"i":0.097},{"s":12,"t":0.49,"i":0.105},{"s":12,"t":0.5,"i":0.091},{"s":12,"t":0.51,"i":0.101},{"s":12,"t":0.52,"i":0.107},{"s":12,"t":0.53,"i":0.094},{"s":12,"t":0.54,"i":0.098},{"s":12,"t":0.55,"i":0.110},{"s":12,"t":0.56,"i":0.097},{"s":12,"t":0.57,"i":0.093},{"s":12,"t":0.58,"i":0.104},{"s":12,"t":0.59,"i":0.107},{"s":12,"t":0.5995,"i":0.094},{"s":12,"t":0.6008,"i":-0.017},{"s":12,"t":0.603,"i":-0.007},{"s":12,"t":0.607,"i":-0.008},{"s":12,"t":0.613,"i":-0.007},{"s":12,"t":0.62,"i":0.002},{"s":12,"t":0.63,"i":0.008},{"s":12,"t":0.64,"i":0.000},{"s":12,"t":0.65,"i":0.004},{"s":12,"t":0.66,"i":0.008},{"s":12,"t":0.67,"i":-0.001},{"s":12,"t":0.68,"i":0.006},{"s":12,"t":0.69,"i":0.002},{"s":12,"t":0.697,"i":0.009},
{"s":13,"t":0.1,"i":0.002},{"s":13,"t":0.1008,"i":0.069},{"s":13,"t":0.11,"i":0.076},{"s":13,"t":0.12,"i":0.062},{"s":13,"t":0.13,"i":0.067},{"s":13,"t":0.14,"i":0.074},{"s":13,"t":0.15,"i":0.060},{"s":13,"t":0.1548,"i":0.070},{"s":13,"t":0.1552,"i":0.188},{"s":13,"t":0.1556,"i":0.068},{"s":13,"t":0.16,"i":0.073},{"s":13,"t":0.17,"i":0.066},{"s":13,"t":0.18,"i":0.078},{"s":13,"t":0.19,"i":0.064},{"s":13,"t":0.2,"i":0.073},{"s":13,"t":0.21,"i":0.076},{"s":13,"t":0.22,"i":0.063},{"s":13,"t":0.23,"i":0.075},{"s":13,"t":0.24,"i":0.081},{"s":13,"t":0.25,"i":0.068},{"s":13,"t":0.26,"i":0.063},{"s":13,"t":0.27,"i":0.079},{"s":13,"t":0.28,"i":0.075},{"s":13,"t":0.29,"i":0.067},{"s":13,"t":0.3,"i":0.082},{"s":13,"t":0.31,"i":0.071},{"s":13,"t":0.32,"i":0.078},{"s":13,"t":0.33,"i":0.066},{"s":13,"t":0.34,"i":0.082},{"s":13,"t":0.35,"i":0.075},{"s":13,"t":0.36,"i":0.069},{"s":13,"t":0.37,"i":0.086},{"s":13,"t":0.38,"i":0.074},{"s":13,"t":0.39,"i":0.081},{"s":13,"t":0.4,"i":0.068},{"s":13,"t":0.41,"i":0.079},{"s":13,"t":0.42,"i":0.072},{"s":13,"t":0.43,"i":0.086},{"s":13,"t":0.44,"i":0.076},{"s":13,"t":0.45,"i":0.070},{"s":13,"t":0.46,"i":0.083},{"s":13,"t":0.47,"i":0.079},{"s":13,"t":0.48,"i":0.068},{"s":13,"t":0.49,"i":0.082},{"s":13,"t":0.5,"i":0.086},{"s":13,"t":0.51,"i":0.075},{"s":13,"t":0.52,"i":0.072},{"s":13,"t":0.53,"i":0.085},{"s":13,"t":0.54,"i":0.079},{"s":13,"t":0.55,"i":0.069},{"s":13,"t":0.56,"i":0.084},{"s":13,"t":0.57,"i":0.075},{"s":13,"t":0.58,"i":0.088},{"s":13,"t":0.59,"i":0.077},{"s":13,"t":0.5995,"i":0.072},{"s":13,"t":0.6008,"i":-0.014},{"s":13,"t":0.603,"i":-0.005},{"s":13,"t":0.607,"i":0.002},{"s":13,"t":0.613,"i":-0.003},{"s":13,"t":0.62,"i":0.002},{"s":13,"t":0.63,"i":0.008},{"s":13,"t":0.64,"i":-0.001},{"s":13,"t":0.65,"i":0.007},{"s":13,"t":0.66,"i":0.003},{"s":13,"t":0.67,"i":0.010},{"s":13,"t":0.68,"i":0.001},{"s":13,"t":0.69,"i":0.006},{"s":13,"t":0.697,"i":0.008},
{"s":14,"t":0.1,"i":-0.006},{"s":14,"t":0.1008,"i":0.047},{"s":14,"t":0.11,"i":0.036},{"s":14,"t":0.12,"i":0.051},{"s":14,"t":0.13,"i":0.043},{"s":14,"t":0.14,"i":0.041},{"s":14,"t":0.15,"i":0.054},{"s":14,"t":0.16,"i":0.043},{"s":14,"t":0.17,"i":0.038},{"s":14,"t":0.18,"i":0.051},{"s":14,"t":0.19,"i":0.057},{"s":14,"t":0.2,"i":0.042},{"s":14,"t":0.21,"i":0.046},{"s":14,"t":0.22,"i":0.055},{"s":14,"t":0.23,"i":0.041},{"s":14,"t":0.24,"i":0.052},{"s":14,"t":0.25,"i":0.045},{"s":14,"t":0.26,"i":0.059},{"s":14,"t":0.27,"i":0.043},{"s":14,"t":0.28,"i":0.050},{"s":14,"t":0.29,"i":0.056},{"s":14,"t":0.3,"i":0.041},{"s":14,"t":0.31,"i":0.053},{"s":14,"t":0.32,"i":0.046},{"s":14,"t":0.33,"i":0.059},{"s":14,"t":0.34,"i":0.048},{"s":14,"t":0.35,"i":0.057},{"s":14,"t":0.36,"i":0.043},{"s":14,"t":0.37,"i":0.053},{"s":14,"t":0.38,"i":0.059},{"s":14,"t":0.39,"i":0.046},{"s":14,"t":0.4,"i":0.051},{"s":14,"t":0.41,"i":0.063},{"s":14,"t":0.42,"i":0.049},{"s":14,"t":0.43,"i":0.045},{"s":14,"t":0.44,"i":0.056},{"s":14,"t":0.45,"i":0.059},{"s":14,"t":0.46,"i":0.046},{"s":14,"t":0.47,"i":0.053},{"s":14,"t":0.48,"i":0.063},{"s":14,"t":0.49,"i":0.049},{"s":14,"t":0.5,"i":0.058},{"s":14,"t":0.51,"i":0.045},{"s":14,"t":0.52,"i":0.056},{"s":14,"t":0.53,"i":0.061},{"s":14,"t":0.54,"i":0.051},{"s":14,"t":0.55,"i":0.045},{"s":14,"t":0.56,"i":0.060},{"s":14,"t":0.57,"i":0.055},{"s":14,"t":0.58,"i":0.049},{"s":14,"t":0.59,"i":0.063},{"s":14,"t":0.5995,"i":0.051},{"s":14,"t":0.6008,"i":-0.009},{"s":14,"t":0.603,"i":-0.003},{"s":14,"t":0.607,"i":0.003},{"s":14,"t":0.613,"i":-0.003},{"s":14,"t":0.62,"i":0.006},{"s":14,"t":0.63,"i":0.003},{"s":14,"t":0.64,"i":0.011},{"s":14,"t":0.65,"i":0.002},{"s":14,"t":0.66,"i":0.007},{"s":14,"t":0.67,"i":0.009},{"s":14,"t":0.68,"i":0.001},{"s":14,"t":0.69,"i":0.008},{"s":14,"t":0.697,"i":0.011},
{"s":15,"t":0.1,"i":0.000},{"s":15,"t":0.1008,"i":0.032},{"s":15,"t":0.11,"i":0.019},{"s":15,"t":0.12,"i":0.014},{"s":15,"t":0.13,"i":0.030},{"s":15,"t":0.14,"i":0.027},{"s":15,"t":0.15,"i":0.018},{"s":15,"t":0.16,"i":0.033},{"s":15,"t":0.17,"i":0.023},{"s":15,"t":0.18,"i":0.030},{"s":15,"t":0.1838,"i":0.028},{"s":15,"t":0.1842,"i":0.278},{"s":15,"t":0.1846,"i":0.026},{"s":15,"t":0.19,"i":0.017},{"s":15,"t":0.2,"i":0.034},{"s":15,"t":0.21,"i":0.027},{"s":15,"t":0.22,"i":0.021},{"s":15,"t":0.23,"i":0.038},{"s":15,"t":0.24,"i":0.026},{"s":15,"t":0.25,"i":0.033},{"s":15,"t":0.26,"i":0.021},{"s":15,"t":0.27,"i":0.032},{"s":15,"t":0.28,"i":0.024},{"s":15,"t":0.29,"i":0.038},{"s":15,"t":0.3,"i":0.029},{"s":15,"t":0.31,"i":0.023},{"s":15,"t":0.32,"i":0.036},{"s":15,"t":0.33,"i":0.032},{"s":15,"t":0.34,"i":0.020},{"s":15,"t":0.35,"i":0.035},{"s":15,"t":0.36,"i":0.039},{"s":15,"t":0.37,"i":0.028},{"s":15,"t":0.38,"i":0.025},{"s":15,"t":0.39,"i":0.038},{"s":15,"t":0.4,"i":0.033},{"s":15,"t":0.41,"i":0.023},{"s":15,"t":0.42,"i":0.037},{"s":15,"t":0.43,"i":0.028},{"s":15,"t":0.44,"i":0.041},{"s":15,"t":0.45,"i":0.030},{"s":15,"t":0.46,"i":0.025},{"s":15,"t":0.47,"i":0.036},{"s":15,"t":0.48,"i":0.043},{"s":15,"t":0.49,"i":0.028},{"s":15,"t":0.5,"i":0.033},{"s":15,"t":0.51,"i":0.039},{"s":15,"t":0.52,"i":0.025},{"s":15,"t":0.53,"i":0.037},{"s":15,"t":0.54,"i":0.030},{"s":15,"t":0.55,"i":0.042},{"s":15,"t":0.56,"i":0.028},{"s":15,"t":0.57,"i":0.036},{"s":15,"t":0.58,"i":0.039},{"s":15,"t":0.59,"i":0.026},{"s":15,"t":0.5995,"i":0.037},{"s":15,"t":0.6008,"i":-0.005},{"s":15,"t":0.603,"i":0.004},{"s":15,"t":0.607,"i":0.002},{"s":15,"t":0.613,"i":0.010},{"s":15,"t":0.62,"i":0.002},{"s":15,"t":0.63,"i":0.008},{"s":15,"t":0.64,"i":0.011},{"s":15,"t":0.65,"i":0.003},{"s":15,"t":0.66,"i":0.010},{"s":15,"t":0.67,"i":0.013},{"s":15,"t":0.68,"i":0.006},{"s":15,"t":0.69,"i":0.002},{"s":15,"t":0.697,"i":0.012},
{"s":16,"t":0.1,"i":-0.010},{"s":16,"t":0.1008,"i":0.007},{"s":16,"t":0.11,"i":0.000},{"s":16,"t":0.12,"i":0.014},{"s":16,"t":0.13,"i":-0.002},{"s":16,"t":0.14,"i":0.006},{"s":16,"t":0.15,"i":0.012},{"s":16,"t":0.16,"i":-0.004},{"s":16,"t":0.17,"i":0.009},{"s":16,"t":0.18,"i":0.002},{"s":16,"t":0.19,"i":0.015},{"s":16,"t":0.2,"i":0.005},{"s":16,"t":0.21,"i":0.013},{"s":16,"t":0.22,"i":-0.001},{"s":16,"t":0.23,"i":0.010},{"s":16,"t":0.24,"i":0.016},{"s":16,"t":0.25,"i":0.003},{"s":16,"t":0.26,"i":0.008},{"s":16,"t":0.27,"i":0.020},{"s":16,"t":0.28,"i":0.006},{"s":16,"t":0.29,"i":0.002},{"s":16,"t":0.3,"i":0.014},{"s":16,"t":0.31,"i":0.017},{"s":16,"t":0.32,"i":0.004},{"s":16,"t":0.33,"i":0.010},{"s":16,"t":0.34,"i":0.020},{"s":16,"t":0.35,"i":0.007},{"s":16,"t":0.36,"i":0.016},{"s":16,"t":0.37,"i":0.003},{"s":16,"t":0.38,"i":0.014},{"s":16,"t":0.39,"i":0.019},{"s":16,"t":0.4,"i":0.010},{"s":16,"t":0.41,"i":0.003},{"s":16,"t":0.42,"i":0.018},{"s":16,"t":0.43,"i":0.013},{"s":16,"t":0.44,"i":0.007},{"s":16,"t":0.45,"i":0.021},{"s":16,"t":0.46,"i":0.009},{"s":16,"t":0.47,"i":0.017},{"s":16,"t":0.48,"i":0.006},{"s":16,"t":0.49,"i":0.020},{"s":16,"t":0.5,"i":0.012},{"s":16,"t":0.51,"i":0.009},{"s":16,"t":0.52,"i":0.022},{"s":16,"t":0.53,"i":0.011},{"s":16,"t":0.54,"i":0.005},{"s":16,"t":0.55,"i":0.019},{"s":16,"t":0.56,"i":0.025},{"s":16,"t":0.57,"i":0.009},{"s":16,"t":0.58,"i":0.013},{"s":16,"t":0.59,"i":0.022},{"s":16,"t":0.5995,"i":0.007},{"s":16,"t":0.6008,"i":0.009},{"s":16,"t":0.603,"i":0.001},{"s":16,"t":0.607,"i":0.007},{"s":16,"t":0.613,"i":0.010},{"s":16,"t":0.62,"i":0.003},{"s":16,"t":0.63,"i":0.011},{"s":16,"t":0.64,"i":0.014},{"s":16,"t":0.65,"i":0.007},{"s":16,"t":0.66,"i":0.003},{"s":16,"t":0.67,"i":0.013},{"s":16,"t":0.68,"i":0.010},{"s":16,"t":0.69,"i":0.005},{"s":16,"t":0.697,"i":0.014},
{"s":17,"t":0.1,"i":-0.024},{"s":17,"t":0.1008,"i":-0.016},{"s":17,"t":0.11,"i":-0.009},{"s":17,"t":0.12,"i":-0.022},{"s":17,"t":0.13,"i":-0.010},{"s":17,"t":0.14,"i":-0.018},{"s":17,"t":0.15,"i":-0.004},{"s":17,"t":0.16,"i":-0.014},{"s":17,"t":0.17,"i":-0.019},{"s":17,"t":0.18,"i":-0.006},{"s":17,"t":0.19,"i":-0.010},{"s":17,"t":0.2,"i":-0.022},{"s":17,"t":0.21,"i":-0.008},{"s":17,"t":0.22,"i":-0.004},{"s":17,"t":0.23,"i":-0.014},{"s":17,"t":0.24,"i":-0.017},{"s":17,"t":0.25,"i":-0.004},{"s":17,"t":0.26,"i":-0.010},{"s":17,"t":0.27,"i":-0.020},{"s":17,"t":0.28,"i":-0.006},{"s":17,"t":0.29,"i":-0.015},{"s":17,"t":0.3,"i":-0.001},{"s":17,"t":0.31,"i":-0.012},{"s":17,"t":0.32,"i":-0.017},{"s":17,"t":0.33,"i":-0.007},{"s":17,"t":0.34,"i":0.000},{"s":17,"t":0.35,"i":-0.015},{"s":17,"t":0.36,"i":-0.010},{"s":17,"t":0.37,"i":-0.004},{"s":17,"t":0.38,"i":-0.018},{"s":17,"t":0.39,"i":-0.005},{"s":17,"t":0.4,"i":-0.012},{"s":17,"t":0.41,"i":-0.001},{"s":17,"t":0.42,"i":-0.015},{"s":17,"t":0.43,"i":-0.007},{"s":17,"t":0.44,"i":-0.004},{"s":17,"t":0.45,"i":-0.017},{"s":17,"t":0.46,"i":-0.006},{"s":17,"t":0.47,"i":0.000},{"s":17,"t":0.48,"i":-0.013},{"s":17,"t":0.49,"i":-0.019},{"s":17,"t":0.5,"i":-0.003},{"s":17,"t":0.51,"i":-0.006},{"s":17,"t":0.52,"i":-0.015},{"s":17,"t":0.53,"i":0.000},{"s":17,"t":0.54,"i":-0.011},{"s":17,"t":0.55,"i":-0.004},{"s":17,"t":0.56,"i":-0.017},{"s":17,"t":0.57,"i":-0.001},{"s":17,"t":0.58,"i":-0.008},{"s":17,"t":0.59,"i":-0.014},{"s":17,"t":0.5995,"i":0.002},{"s":17,"t":0.6008,"i":0.010},{"s":17,"t":0.603,"i":0.003},{"s":17,"t":0.607,"i":0.010},{"s":17,"t":0.613,"i":0.014},{"s":17,"t":0.62,"i":0.007},{"s":17,"t":0.63,"i":0.004},{"s":17,"t":0.64,"i":0.014},{"s":17,"t":0.65,"i":0.011},{"s":17,"t":0.66,"i":0.006},{"s":17,"t":0.67,"i":0.015},{"s":17,"t":0.68,"i":0.008},{"s":17,"t":0.69,"i":0.012},{"s":17,"t":0.697,"i":0.005}
]},
"layer": [
{
"mark": {"type": "line", "color": "black", "strokeWidth": 2},
"encoding": {
"x": {"field": "t", "type": "quantitative", "scale": {"domain": [-0.0265, 0.725], "nice": false, "zero": false},
"axis": {"orient": "bottom", "values": [0.1, 0.35, 0.6], "format": ".2~f", "title": "t [s]", "grid": false, "tickSize": -7, "labelPadding": 30, "titlePadding": 13, "labelFont": "DejaVu Sans", "labelFontSize": 31, "labelColor": "#262626", "titleFont": "DejaVu Sans", "titleFontSize": 33, "titleFontWeight": "normal", "titleColor": "#262626", "domainColor": "#262626", "tickColor": "#262626", "domainWidth": 1.3, "tickWidth": 1.3}},
"y": {"field": "i", "type": "quantitative", "scale": {"domain": [-0.2224, 0.753], "nice": false, "zero": false},
"axis": {"orient": "left", "values": [0, 0.3, 0.6], "format": ".1~f", "title": "I [nA]", "grid": false, "tickSize": -7, "labelPadding": 24, "titlePadding": 2, "labelFont": "DejaVu Sans", "labelFontSize": 31, "labelColor": "#262626", "titleFont": "DejaVu Sans", "titleFontSize": 33, "titleFontWeight": "normal", "titleColor": "#262626", "domainColor": "#262626", "tickColor": "#262626", "domainWidth": 1.3, "tickWidth": 1.3}},
"detail": {"field": "s", "type": "nominal"}
}
},
{
"transform": [{"filter": "datum.s == 21 && datum.t == 0.0005"}],
"mark": {"type": "point", "opacity": 0},
"encoding": {
"x": {"field": "t", "type": "quantitative", "scale": {"domain": [-0.0265, 0.725], "nice": false, "zero": false},
"axis": {"orient": "top", "domain": false, "ticks": false, "labels": false, "grid": false, "title": "Activation", "titleFont": "DejaVu Sans", "titleFontSize": 22, "titleFontWeight": "normal", "titleColor": "black", "titleX": 716, "titleY": 0, "titleAlign": "right", "titleBaseline": "alphabetic", "titleAngle": 0}},
"y": {"field": "i", "type": "quantitative", "scale": {"domain": [-0.2224, 0.753], "nice": false, "zero": false},
"axis": {"orient": "right", "domain": false, "ticks": false, "labels": false, "grid": false, "title": "BBP Channelpedia ID 13543 rep 1", "titleFont": "DejaVu Sans", "titleFontSize": 22, "titleFontWeight": "normal", "titleColor": "black", "titleX": 1, "titleY": 239, "titleAngle": 270, "titleAlign": "center", "titleBaseline": "alphabetic"}}
}
}
],
"resolve": {"axis": {"x": "independent", "y": "independent"}}
}
